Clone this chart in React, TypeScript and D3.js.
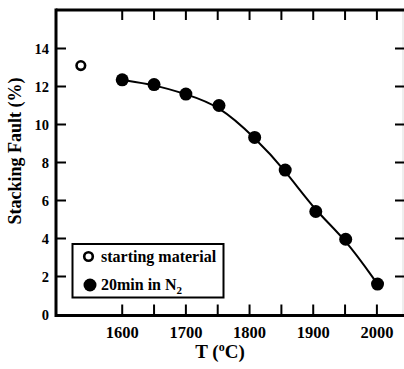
import React from "react";
import * as d3 from "d3";

const startTemp = [1535];
const startSF = [13.1];
const n2Temps = [1600, 1650, 1700, 1752, 1808, 1856, 1904, 1951, 2001];
const n2SF = [12.35, 12.1, 11.6, 11.0, 9.32, 7.6, 5.42, 3.96, 1.6];
const xTicks = [1600, 1650, 1700, 1750, 1800, 1850, 1900, 1950, 2000];
const xTickLabels = [1600, 1700, 1800, 1900, 2000];
const yTicks = [0, 2, 4, 6, 8, 10, 12, 14];
const legendLabels = ["starting material", "20min in N"];

const W = 404, H = 369;
const L = 56, R = 403, T = 10, B = 314.5;
const FONT = "'Liberation Serif', 'DejaVu Serif', serif";

export default function App() {
  const x = d3.scaleLinear().domain([1496, 2041]).range([L, R]);
  const y = d3.scaleLinear().domain([0, 16]).range([B, T + 0.5]);
  const pts = n2Temps.map((t, i) => [t, n2SF[i]] as [number, number]);
  const path = d3
    .line<[number, number]>()
    .x((d) => x(d[0]))
    .y((d) => y(d[1]))
    .curve(d3.curveBasis)(pts);
  return (
    <svg
      width={W}
      height={H}
      style={{ position: "absolute", left: 0, top: 0, background: "#fff" }}
    >
      {/* frame */}
      <line x1={R} x2={R} y1={T} y2={B} stroke="#ddd" strokeWidth={1} />
      <line x1={L} x2={W} y1={T} y2={T} stroke="#000" strokeWidth={3} />
      <line x1={L} x2={W} y1={B + 1} y2={B + 1} stroke="#000" strokeWidth={3} />
      <line x1={L} x2={L} y1={T - 1.5} y2={B + 2.5} stroke="#000" strokeWidth={3} />
      {/* x ticks */}
      {xTicks.map((t) => (
        <g key={"xt" + t}>
          <line x1={x(t)} x2={x(t)} y1={B} y2={B - 10} stroke="#000" strokeWidth={2} />
          <line x1={x(t)} x2={x(t)} y1={T} y2={T + 10} stroke="#000" strokeWidth={2} />
        </g>
      ))}
      {xTickLabels.map((t) => (
        <text
          key={"xl" + t}
          x={x(t)}
          y={338}
          textAnchor="middle"
          fontFamily={FONT}
          fontWeight="bold"
          fontSize={16.5}
          fill="#000"
        >
          {t}
        </text>
      ))}
      {/* y ticks */}
      {yTicks.map((t) => (
        <g key={"yt" + t}>
          {t > 0 && (
            <line x1={L} x2={L + 10} y1={y(t)} y2={y(t)} stroke="#000" strokeWidth={2} />
          )}
          {t > 0 && (
            <line x1={R - 8} x2={W} y1={y(t)} y2={y(t)} stroke="#000" strokeWidth={2} />
          )}
          <text
            x={49}
            y={y(t) + 5}
            textAnchor="end"
            fontFamily={FONT}
            fontWeight="bold"
            fontSize={14.5}
            fill="#000"
          >
            {t}
          </text>
        </g>
      ))}
      {/* axis titles */}
      <text
        transform={`translate(21,151) rotate(-90)`}
        textAnchor="middle"
        fontFamily={FONT}
        fontWeight="bold"
        fontSize={18}
        fill="#000"
      >
        Stacking Fault (%)
      </text>
      <text
        x={220}
        y={358}
        textAnchor="middle"
        fontFamily={FONT}
        fontWeight="bold"
        fontSize={19}
        fill="#000"
      >
        T (<tspan dy={-7} fontSize={12}>o</tspan>
        <tspan dy={7}>C)</tspan>
      </text>
      {/* fitted curve */}
      <path d={path ?? ""} fill="none" stroke="#000" strokeWidth={2} />
      {/* points */}
      {pts.map((p, i) => (
        <circle key={"p" + i} cx={x(p[0])} cy={y(p[1])} r={6.5} fill="#000" />
      ))}
      {startTemp.map((t, i) => (
        <circle
          key={"s" + i}
          cx={x(t)}
          cy={y(startSF[i])}
          r={4.3}
          fill="#fff"
          stroke="#000"
          strokeWidth={2.6}
        />
      ))}
      {/* legend */}
      <rect x={72.5} y={244} width={151} height={53.5} fill="#fff" stroke="#000" strokeWidth={2} />
      <circle cx={88.5} cy={256.5} r={4.3} fill="#fff" stroke="#000" strokeWidth={2.6} />
      <circle cx={90} cy={285} r={6.5} fill="#000" />
      <text x={101} y={262} fontFamily={FONT} fontWeight="bold" fontSize={16} fill="#000">
        {legendLabels[0]}
      </text>
      <text x={101} y={290} fontFamily={FONT} fontWeight="bold" fontSize={16} fill="#000">
        {legendLabels[1]}
        <tspan dy={4} fontSize={11}>2</tspan>
      </text>
    </svg>
  );
}
